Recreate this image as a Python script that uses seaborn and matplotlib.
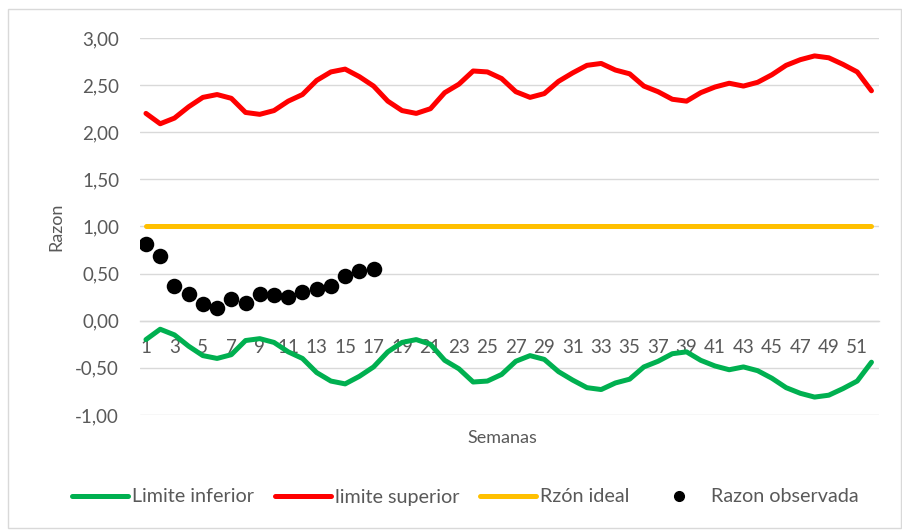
import numpy as np
import pandas as pd
import matplotlib
matplotlib.use('Agg')
import matplotlib.pyplot as plt
import seaborn as sns
from matplotlib.lines import Line2D
from matplotlib.patches import Rectangle

# Datos
semanas = list(range(1, 53))

limiteSuperior = [2.20, 2.09, 2.15, 2.27, 2.37, 2.40, 2.36, 2.21, 2.19, 2.23,
                  2.33, 2.40, 2.55, 2.64, 2.67, 2.59, 2.49, 2.33, 2.23, 2.20,
                  2.25, 2.42, 2.51, 2.65, 2.64, 2.57, 2.43, 2.37, 2.41, 2.54,
                  2.63, 2.71, 2.73, 2.66, 2.62, 2.49, 2.43, 2.35, 2.33, 2.42,
                  2.48, 2.52, 2.49, 2.53, 2.61, 2.71, 2.77, 2.81, 2.79, 2.72,
                  2.64, 2.44]

limiteInferior = [-0.20, -0.09, -0.15, -0.27, -0.37, -0.40, -0.36, -0.21, -0.19, -0.23,
                  -0.33, -0.40, -0.55, -0.64, -0.67, -0.59, -0.49, -0.33, -0.23, -0.20,
                  -0.25, -0.42, -0.51, -0.65, -0.64, -0.57, -0.43, -0.37, -0.41, -0.54,
                  -0.63, -0.71, -0.73, -0.66, -0.62, -0.49, -0.43, -0.35, -0.33, -0.42,
                  -0.48, -0.52, -0.49, -0.53, -0.61, -0.71, -0.77, -0.81, -0.79, -0.72,
                  -0.64, -0.44]

razonIdeal = [1.0] * 52

semanasObs = list(range(1, 18))
razonObservada = [0.81, 0.69, 0.37, 0.28, 0.18, 0.14, 0.23, 0.19, 0.28, 0.27,
                  0.25, 0.30, 0.34, 0.37, 0.47, 0.53, 0.55]

yTicks = [-1.0, -0.5, 0.0, 0.5, 1.0, 1.5, 2.0, 2.5, 3.0]

# Estilo
sns.set_style('white')
plt.rcParams['font.family'] = ['Lato', 'DejaVu Sans']
textColor = '#595959'
gridColor = '#D9D9D9'

fig = plt.figure(figsize=(9.02, 5.30), dpi=100)
ax = fig.add_axes([0.1552, 0.2170, 0.8193, 0.7113])

# Borde del area del grafico
fig.patches.append(Rectangle((8 / 902, 1 - 528 / 530), 893 / 902, 519 / 530,
                             transform=fig.transFigure, fill=False,
                             edgecolor=gridColor, linewidth=1.0))

sns.lineplot(x=semanas, y=limiteInferior, ax=ax, color='#00B050', linewidth=3.6,
             solid_capstyle='round', zorder=3)
sns.lineplot(x=semanas, y=limiteSuperior, ax=ax, color='#FF0000', linewidth=3.6,
             solid_capstyle='round', zorder=3)
sns.lineplot(x=semanas, y=razonIdeal, ax=ax, color='#FFC000', linewidth=3.6,
             solid_capstyle='round', zorder=3)
sns.scatterplot(x=semanasObs, y=razonObservada, ax=ax, color='black', s=125,
                edgecolor='black', linewidth=0, zorder=4)

ax.set_xlim(0.58, 52.53)
ax.set_ylim(-1.0, 3.0)
ax.set_yticks(yTicks)
ax.set_yticklabels([f'{v:.2f}'.replace('.', ',') for v in yTicks])
ax.set_xticks(semanas[::2])
ax.set_xticklabels([str(s) for s in semanas[::2]])

ax.grid(axis='y', color=gridColor, linewidth=1.0)
ax.grid(axis='x', visible=False)
ax.set_axisbelow(True)
for side in ['top', 'right', 'left']:
    ax.spines[side].set_visible(False)
ax.spines['bottom'].set_position(('data', 0))
ax.spines['bottom'].set_color(gridColor)
ax.spines['bottom'].set_linewidth(1.0)

ax.tick_params(axis='y', length=0, pad=15, labelsize=13.5, labelcolor=textColor)
ax.tick_params(axis='x', length=0, pad=13, labelsize=13.5, labelcolor=textColor)

ax.set_ylabel('Razon', fontsize=13, color=textColor)
ax.yaxis.set_label_coords(-0.102, 0.5)
ax.set_xlabel('Semanas', fontsize=13, color=textColor)
ax.xaxis.set_label_coords(0.49, -0.04)

handles = [
    Line2D([0], [0], color='#00B050', linewidth=3.6, solid_capstyle='round'),
    Line2D([0], [0], color='#FF0000', linewidth=3.6, solid_capstyle='round'),
    Line2D([0], [0], color='#FFC000', linewidth=3.6, solid_capstyle='round'),
    Line2D([0], [0], color='black', marker='o', linestyle='none', markersize=7),
]
labels = ['Limite inferior', 'limite superior', 'Rzón ideal', 'Razon observada']
leg = fig.legend(handles, labels, loc='center left', bbox_to_anchor=(72 / 902, 1 - 497 / 530),
                 ncol=4, frameon=False, fontsize=14.2, handlelength=2.85,
                 handletextpad=0.2, columnspacing=1.05, borderaxespad=0, borderpad=0)
for t in leg.get_texts():
    t.set_color(textColor)

fig.savefig('out.png', dpi=100)
